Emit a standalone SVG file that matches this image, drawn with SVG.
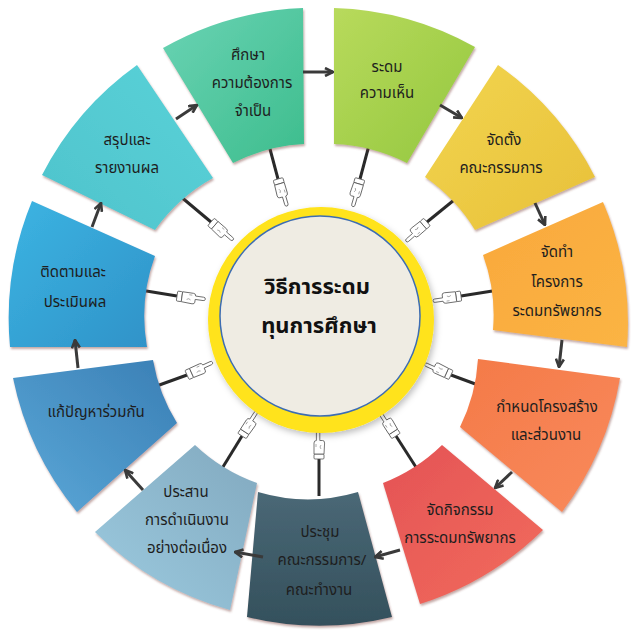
<svg xmlns="http://www.w3.org/2000/svg" xmlns:xlink="http://www.w3.org/1999/xlink" width="631" height="634" viewBox="0 0 631 634">
<style>
.seg{filter:url(#sh)}
.lbl{font-family:'Noto Sans Thai','Noto Sans','Liberation Sans',sans-serif;font-size:15px;fill:#1e1e1e;text-anchor:middle}
.ttl{font-family:'Noto Sans Thai','Noto Sans','Liberation Sans',sans-serif;font-size:22px;font-weight:bold;fill:#111;text-anchor:middle}
.spoke{stroke:#2a2a2a;stroke-width:3;fill:none}
.flow{stroke:#3a3a3a;stroke-width:3;fill:none;marker-end:url(#ah)}
</style>
<defs>
<filter id="sh" x="-10%" y="-10%" width="130%" height="130%">
<feDropShadow dx="1" dy="2" stdDeviation="1.2" flood-color="#7a4038" flood-opacity="0.45"/>
</filter>
<filter id="csh" x="-20%" y="-20%" width="140%" height="140%">
<feDropShadow dx="2" dy="3" stdDeviation="3" flood-color="#000" flood-opacity="0.25"/>
</filter>
<marker id="ah" viewBox="0 0 10 10" refX="9" refY="5" markerWidth="10" markerHeight="10" markerUnits="userSpaceOnUse" orient="auto">
<path d="M1,1 L9,5 L1,9" fill="none" stroke="#3a3a3a" stroke-width="2.6" stroke-linejoin="miter"/>
</marker>
<g id="hand">
<rect x="0" y="-5" width="5" height="10" rx="1" fill="#fff" stroke="#555" stroke-width="0.8"/>
<path d="M5,-5 L16,-5 Q18.5,-5 18.5,-2.6 L26.5,-2.6 Q28.5,-2.6 28.5,-0.9 Q28.5,0.8 26.5,0.8 L18.5,0.8 L18.5,3.6 Q18.5,5.6 16,5.6 L5,5 Z" fill="#fff" stroke="#555" stroke-width="0.8" stroke-linejoin="round"/>
<path d="M10,2 Q12,0 14,2 M12,-3 L15,-3" fill="none" stroke="#777" stroke-width="0.6"/>
</g>
<linearGradient id="g1" x1="0" y1="0" x2="1" y2="1"><stop offset="0" stop-color="#6ad3b4"/><stop offset="1" stop-color="#3dbd8d"/></linearGradient>
<linearGradient id="g2" x1="0" y1="0" x2="1" y2="1"><stop offset="0" stop-color="#b8da5c"/><stop offset="1" stop-color="#93c73e"/></linearGradient>
<linearGradient id="g3" x1="0" y1="0" x2="1" y2="1"><stop offset="0" stop-color="#f2d54e"/><stop offset="1" stop-color="#e8c03a"/></linearGradient>
<linearGradient id="g4" x1="0" y1="0" x2="1" y2="1"><stop offset="0" stop-color="#f9a83c"/><stop offset="1" stop-color="#fbb444"/></linearGradient>
<linearGradient id="g5" x1="0" y1="0" x2="1" y2="1"><stop offset="0" stop-color="#f47a48"/><stop offset="1" stop-color="#f98a5c"/></linearGradient>
<linearGradient id="g6" x1="0" y1="0" x2="1" y2="1"><stop offset="0" stop-color="#e45356"/><stop offset="1" stop-color="#f26c5c"/></linearGradient>
<linearGradient id="g7" x1="0" y1="0" x2="0" y2="1"><stop offset="0" stop-color="#4a6876"/><stop offset="1" stop-color="#34505c"/></linearGradient>
<linearGradient id="g8" x1="1" y1="0" x2="0" y2="1"><stop offset="0" stop-color="#82a9bf"/><stop offset="1" stop-color="#9ccbe0"/></linearGradient>
<linearGradient id="g9" x1="1" y1="0" x2="0" y2="1"><stop offset="0" stop-color="#3a7fb5"/><stop offset="1" stop-color="#5ba8d8"/></linearGradient>
<linearGradient id="g10" x1="0" y1="0" x2="1" y2="1"><stop offset="0" stop-color="#3cb4e2"/><stop offset="1" stop-color="#2f92c8"/></linearGradient>
<linearGradient id="g11" x1="0" y1="1" x2="1" y2="0"><stop offset="0" stop-color="#4ec3cc"/><stop offset="1" stop-color="#5ad2d8"/></linearGradient>
</defs>
<rect width="631" height="634" fill="#ffffff"/>

<g id="connectors">
<line class="spoke" x1="266" y1="134" x2="278" y2="179"/>
<line class="spoke" x1="372" y1="134" x2="360" y2="179"/>
<line class="spoke" x1="459" y1="196" x2="427" y2="222"/>
<line class="spoke" x1="505" y1="289" x2="461" y2="296"/>
<line class="spoke" x1="497" y1="392" x2="451" y2="375"/>
<line class="spoke" x1="421" y1="475" x2="396" y2="436"/>
<line class="spoke" x1="319" y1="496" x2="319" y2="459"/>
<line class="spoke" x1="218" y1="475" x2="242" y2="436"/>
<line class="spoke" x1="140" y1="392" x2="187" y2="375"/>
<line class="spoke" x1="134" y1="289" x2="177" y2="296"/>
<line class="spoke" x1="180" y1="196" x2="211" y2="222"/>
<use xlink:href="#hand" href="#hand" transform="translate(278,179) rotate(73.6)"/>
<use xlink:href="#hand" href="#hand" transform="translate(360,179) rotate(106.4)"/>
<use xlink:href="#hand" href="#hand" transform="translate(427,222) rotate(139.1)"/>
<use xlink:href="#hand" href="#hand" transform="translate(461,296) rotate(171.8)"/>
<use xlink:href="#hand" href="#hand" transform="translate(451,375) rotate(204.5)"/>
<use xlink:href="#hand" href="#hand" transform="translate(396,436) rotate(237.3)"/>
<use xlink:href="#hand" href="#hand" transform="translate(319,459) rotate(270)"/>
<use xlink:href="#hand" href="#hand" transform="translate(242,436) rotate(302.7)"/>
<use xlink:href="#hand" href="#hand" transform="translate(187,375) rotate(335.5)"/>
<use xlink:href="#hand" href="#hand" transform="translate(177,296) rotate(8.2)"/>
<use xlink:href="#hand" href="#hand" transform="translate(211,222) rotate(40.9)"/>
</g>

<g id="center">
<circle cx="321" cy="320" r="113" fill="#ffe31a" filter="url(#csh)"/>
<circle cx="320" cy="316" r="100" fill="#efece3" stroke="#3d6db3" stroke-width="1.5"/>
<text class="ttl" x="317" y="294">วิธีการระดม</text>
<text class="ttl" x="319" y="333">ทุนการศึกษา</text>
</g>

<g id="n1"><path class="seg" fill="url(#g1)" d="M163,48 A308,308 0 0 1 303,8 L304,144 A176,176 0 0 0 233,163 Z"/>
<text class="lbl" x="248" y="60">ศึกษา</text><text class="lbl" x="252" y="88">ความต้องการ</text><text class="lbl" x="253" y="116">จำเป็น</text></g>
<g id="n2"><path class="seg" fill="url(#g2)" d="M334,8 A308,308 0 0 1 475,47 L407,163 A176,176 0 0 0 334,144 Z"/>
<text class="lbl" x="387" y="72">ระดม</text><text class="lbl" x="387" y="98">ความเห็น</text></g>
<g id="n3"><path class="seg" fill="url(#g3)" d="M498,65 A308,308 0 0 1 595,177 L475,230 A176,176 0 0 0 425,177 Z"/>
<text class="lbl" x="504" y="145">จัดตั้ง</text><text class="lbl" x="501" y="173">คณะกรรมการ</text></g>
<g id="n4"><path class="seg" fill="url(#g4)" d="M603,202 A308,308 0 0 1 627,347 L493,330 A176,176 0 0 0 483,255 Z"/>
<text class="lbl" x="557" y="257">จัดทำ</text><text class="lbl" x="557" y="287">โครงการ</text><text class="lbl" x="557" y="316">ระดมทรัพยากร</text></g>
<g id="n5"><path class="seg" fill="url(#g5)" d="M620,378 A308,308 0 0 1 562,512 L460,427 A176,176 0 0 0 478,359 Z"/>
<text class="lbl" x="547" y="412">กำหนดโครงสร้าง</text><text class="lbl" x="546" y="440">และส่วนงาน</text></g>
<g id="n6"><path class="seg" fill="url(#g6)" d="M543,530 A308,308 0 0 1 420,604 L383,483 A176,176 0 0 0 442,445 Z"/>
<text class="lbl" x="460" y="515">จัดกิจกรรม</text><text class="lbl" x="460" y="543">การระดมทรัพยากร</text></g>
<g id="n7"><path class="seg" fill="url(#g7)" d="M392,617 A308,308 0 0 1 247,617 L258,492 A176,176 0 0 0 358,492 Z"/>
<text class="lbl" x="320" y="537">ประชุม</text><text class="lbl" x="322" y="565">คณะกรรมการ/</text><text class="lbl" x="319" y="595">คณะทำงาน</text></g>
<g id="n8"><path class="seg" fill="url(#g8)" d="M230,610 A308,308 0 0 1 95,532 L195,445 A176,176 0 0 0 257,483 Z"/>
<text class="lbl" x="186" y="497">ประสาน</text><text class="lbl" x="187" y="525">การดำเนินงาน</text><text class="lbl" x="187" y="553">อย่างต่อเนื่อง</text></g>
<g id="n9"><path class="seg" fill="url(#g9)" d="M77,512 A308,308 0 0 1 13,378 L153,360 A176,176 0 0 0 177,423 Z"/>
<text class="lbl" x="96" y="417">แก้ปัญหาร่วมกัน</text></g>
<g id="n10"><path class="seg" fill="url(#g10)" d="M10,347 A308,308 0 0 1 32,201 L155,256 A176,176 0 0 0 147,347 Z"/>
<text class="lbl" x="73" y="277">ติดตามและ</text><text class="lbl" x="75" y="307">ประเมินผล</text></g>
<g id="n11"><path class="seg" fill="url(#g11)" d="M42,175 A308,308 0 0 1 137,65 L213,178 A176,176 0 0 0 155,230 Z"/>
<text class="lbl" x="127" y="145">สรุปและ</text><text class="lbl" x="127" y="173">รายงานผล</text></g>

<g id="flow-arrows">
<line class="flow" x1="176" y1="119" x2="197" y2="105"/>
<line class="flow" x1="303" y1="72" x2="333" y2="72"/>
<line class="flow" x1="440" y1="105" x2="462" y2="118"/>
<line class="flow" x1="535" y1="203" x2="545" y2="225"/>
<line class="flow" x1="562" y1="340" x2="559" y2="367"/>
<line class="flow" x1="512" y1="472" x2="495" y2="488"/>
<line class="flow" x1="400" y1="550" x2="375" y2="557"/>
<line class="flow" x1="263" y1="557" x2="235" y2="552"/>
<line class="flow" x1="143" y1="490" x2="125" y2="470"/>
<line class="flow" x1="78" y1="368" x2="75" y2="340"/>
<line class="flow" x1="92" y1="227" x2="101" y2="203"/>
</g>
</svg>
